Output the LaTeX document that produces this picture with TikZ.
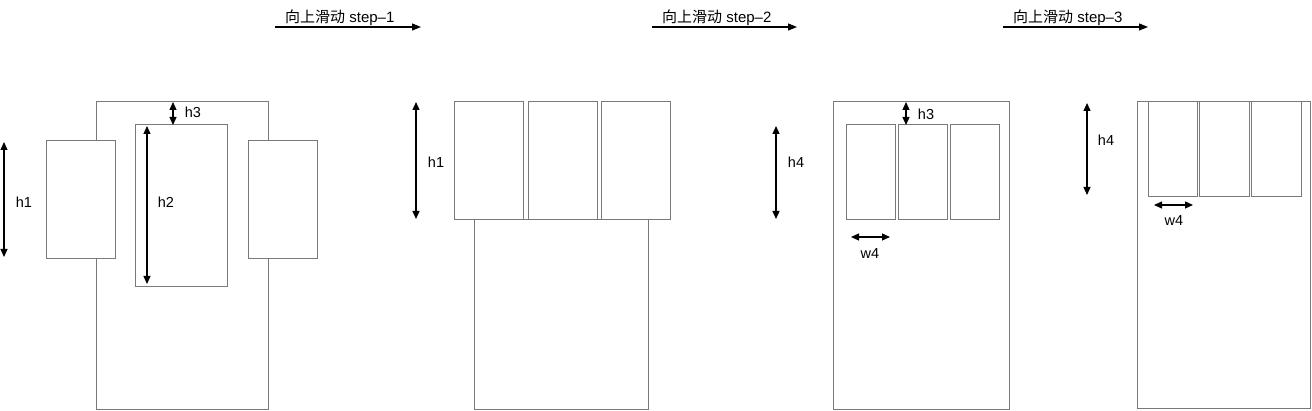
\documentclass[tikz,border=0pt]{standalone}
\usepackage{fontspec}
\setmainfont{Liberation Sans}
\newfontfamily\cjk{Noto Sans CJK SC}
\usetikzlibrary{arrows.meta}
\tikzset{
  boxst/.style={draw=black!52, line width=1pt, fill=white, inner sep=0pt, outer sep=0pt, anchor=north west},
  dim/.style={draw=black, line width=1.2pt, {Triangle[length=8pt,width=7pt]}-{Triangle[length=8pt,width=7pt]}},
  stepar/.style={draw=black, line width=1.2pt, -{Triangle[length=9pt,width=7pt]}},
  lbl/.style={inner sep=0pt, font=\fontsize{14.5}{16}\selectfont},
  steplbl/.style={inner sep=0pt, anchor=base west, font=\fontsize{15}{17}\selectfont}
}
\newcommand{\bx}[5]{\node[boxst, minimum width={(#4-#2)*1pt}, minimum height={(#5-#3)*1pt}] (#1) at (#2,#3) {};}
\begin{document}
\begin{tikzpicture}[x=1pt,y=-1pt]
\useasboundingbox (0,0) rectangle (1312,411);
% top step arrows
\coordinate (s1a) at (275,27); \coordinate (s1b) at (421,27);
\coordinate (s2a) at (652,27); \coordinate (s2b) at (797,27);
\coordinate (s3a) at (1003,27); \coordinate (s3b) at (1148,27);
\draw[stepar] (s1a) -- (s1b);
\draw[stepar] (s2a) -- (s2b);
\draw[stepar] (s3a) -- (s3b);
\node[steplbl] (t1) at (285,23) {{\cjk 向上滑动} step–1};
\node[steplbl] (t2) at (662,23) {{\cjk 向上滑动} step–2};
\node[steplbl] (t3) at (1013,23) {{\cjk 向上滑动} step–3};
% panel 1
\bx{pa}{96}{102}{268}{410}
\bx{pal}{46}{141}{115}{259}
\bx{par}{248}{141}{317}{259}
\bx{pac}{135}{125}{227}{287}
\coordinate (a1t) at (4,142); \coordinate (a1b) at (4,257);
\draw[dim] (a1t) -- (a1b);
\node[lbl] (la1) at (24,202) {h1};
\coordinate (a2t) at (147,126); \coordinate (a2b) at (147,284);
\draw[dim] (a2t) -- (a2b);
\node[lbl] (la2) at (166,202) {h2};
\coordinate (a3t) at (173,102); \coordinate (a3b) at (173,125);
\draw[dim] (a3t) -- (a3b);
\node[lbl] (la3) at (193,112) {h3};
% panel 2
\bx{pb}{474}{220}{648}{410}
\bx{pb1}{454}{102}{523}{220}
\bx{pb2}{528}{102}{597}{220}
\bx{pb3}{601}{102}{670}{220}
\coordinate (b1t) at (416,102); \coordinate (b1b) at (416,219);
\draw[dim] (b1t) -- (b1b);
\node[lbl] (lb1) at (436,162) {h1};
% panel 3
\bx{pc}{833}{102}{1009}{410}
\bx{pc1}{846}{125}{895}{220}
\bx{pc2}{898}{125}{947}{220}
\bx{pc3}{950}{125}{999}{220}
\coordinate (c1t) at (776,126); \coordinate (c1b) at (776,219);
\draw[dim] (c1t) -- (c1b);
\node[lbl] (lc1) at (796,162) {h4};
\coordinate (c2t) at (906,102); \coordinate (c2b) at (906,125);
\draw[dim] (c2t) -- (c2b);
\node[lbl] (lc2) at (926,114) {h3};
\coordinate (c3l) at (851,237); \coordinate (c3r) at (890,237);
\draw[dim] (c3l) -- (c3r);
\node[lbl] (lc3) at (870,254) {w4};
% panel 4
\bx{pd}{1137}{102}{1310}{409}
\bx{pd1}{1148}{102}{1197}{197}
\bx{pd2}{1199}{102}{1249}{197}
\bx{pd3}{1251}{102}{1301}{197}
\coordinate (d1t) at (1087,103); \coordinate (d1b) at (1087,195);
\draw[dim] (d1t) -- (d1b);
\node[lbl] (ld1) at (1106,140) {h4};
\coordinate (d2l) at (1154,205); \coordinate (d2r) at (1193,205);
\draw[dim] (d2l) -- (d2r);
\node[lbl] (ld2) at (1174,221) {w4};
\end{tikzpicture}
\end{document}
